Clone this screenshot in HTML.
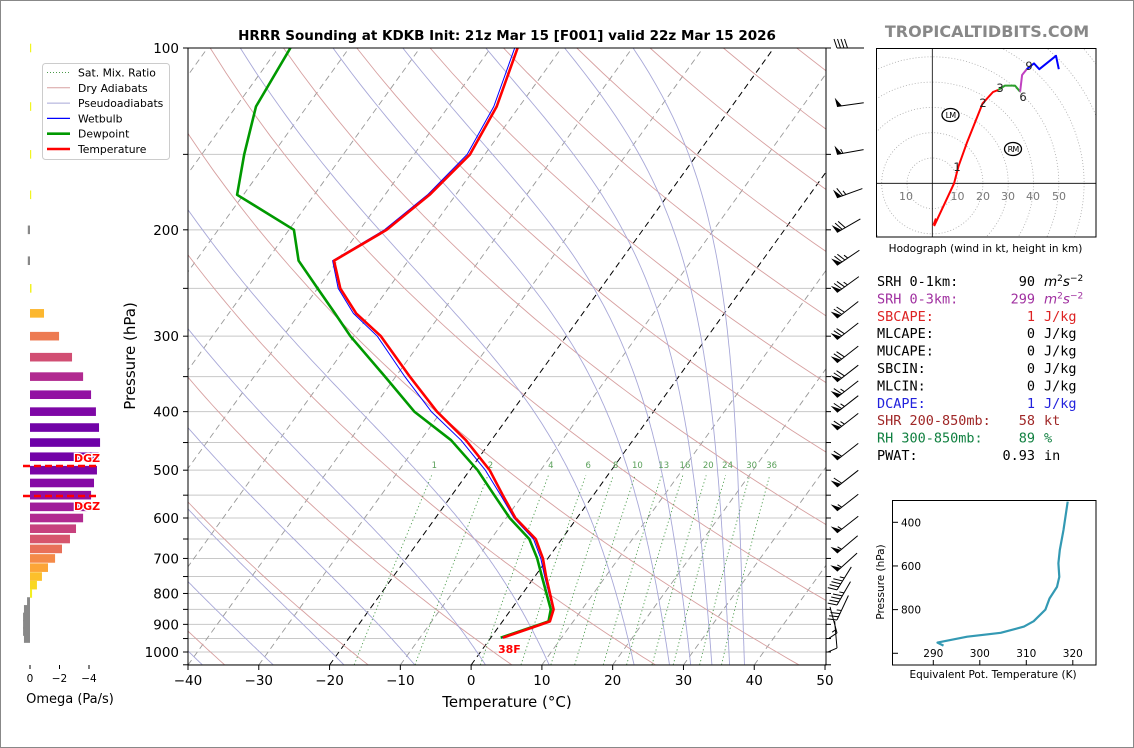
<!DOCTYPE html>
<html><head><meta charset="utf-8">
<style>
html,body{margin:0;padding:0;background:#fff;}
svg{display:block;font-family:"DejaVu Sans","Liberation Sans",sans-serif;}
.mono{font-family:"DejaVu Sans Mono","Liberation Mono",monospace;font-size:13.5px;}
</style></head>
<body>
<svg id="fig" width="1134" height="748" viewBox="0 0 1134 748" xmlns="http://www.w3.org/2000/svg">
<rect x="0.5" y="0.5" width="1133" height="747" fill="#fff" stroke="#888"/>
<defs>
<clipPath id="mainclip"><rect x="188" y="48" width="638" height="617"/></clipPath>
<clipPath id="hodoclip"><rect x="876" y="48" width="220" height="189"/></clipPath>
</defs>
<g id="main-bg" clip-path="url(#mainclip)"></g>
<g id="main-data" clip-path="url(#mainclip)"></g>
<g id="main-axes"></g>
<g id="barbs"></g>
<g id="omega"></g>
<g id="hodo"></g>
<g id="stats"></g>
<g id="thetae"></g>
<text x="507" y="40" text-anchor="middle" font-size="13.5" font-weight="bold">HRRR Sounding at KDKB Init: 21z Mar 15 [F001] valid 22z Mar 15 2026</text>
<text x="987" y="37" text-anchor="middle" font-size="16" font-weight="bold" fill="#888">TROPICALTIDBITS.COM</text>
</svg>
<script>
// ---------- data ----------
const profP = [100,125,150,175,200,225,250,275,300,350,400,446,500,550,600,650,700,750,850,890,900,947];
const tempC = [-56.2,-53.2,-52.1,-53.7,-56.2,-60.5,-56.8,-52.0,-46.2,-38.0,-30.6,-23.6,-17.2,-12.8,-8.7,-3.7,-0.7,1.6,6.0,6.7,5.8,1.7];
const dewC  = [-88.3,-87.2,-84,-80.9,-69.3,-65.5,-60,-55,-50.5,-41.5,-33.8,-25.7,-18.9,-14.0,-9.5,-4.6,-1.5,1.0,5.6,6.5,5.6,1.4];
const wetbC = [-56.6,-53.6,-52.5,-54.0,-56.5,-60.7,-57.1,-52.4,-46.7,-38.7,-31.4,-24.3,-17.8,-13.1,-8.9,-4.0,-1.0,1.4,5.9,6.6,5.7,1.6];
const mixRatios = [1,2,4,6,8,10,13,16,20,24,30,36];
const pTickLabels = [100,200,300,400,500,600,700,800,900,1000];
const tTickLabels = [-40,-30,-20,-10,0,10,20,30,40,50];
const omegaP = [100,125,150,175,200,225,250,275,300,325,350,375,400,425,450,475,500,525,550,575,600,625,650,675,700,725,750,775,800,825,850,875,900,925,950];
const omegaV = [-0.05,-0.05,-0.05,-0.05,0.15,0.15,-0.1,-0.95,-1.97,-2.85,-3.6,-4.14,-4.47,-4.68,-4.75,-4.65,-4.54,-4.34,-4.14,-3.9,-3.6,-3.12,-2.71,-2.17,-1.7,-1.22,-0.81,-0.47,-0.14,0.2,0.41,0.47,0.47,0.47,0.41];
const barbP = [100,125,150,177,202,229,254,280,304,332,357,379,401,429,481,533,584,635,686,735,789,836,885,930,985];
const barbSpd = [40,50,55,65,70,75,75,70,70,70,70,65,65,65,60,60,55,55,55,55,45,45,35,15,10];
const barbDir = [270,262,260,250,240,236,234,232,232,232,232,232,232,232,232,232,232,232,230,228,212,210,205,165,175];
const hodoU = [0.7,8.6,10.3,13.6,19.9,24,26.1];
const hodoV = [-16.9,0,6.6,15.8,31.6,36.1,36.9];
const hodoU36 = [26.1,28.7,32.7,34.7];
const hodoV36 = [36.9,38.6,38.6,36.2];
const hodoU69 = [34.7,35.5,37.3];
const hodoV69 = [36.2,42.8,45.1];
const hodoU9 = [37.3,40.2,42.3,48.9,50];
const hodoV9 = [45.1,47.4,45.1,50.4,45.1];
const thetaE = [318.9,318.0,317.2,316.9,317.1,316.6,315.0,314.1,311.6,309.5,304.5,297.3,290.9,292.2];
const thetaEP = [305,435,527,588,650,696,749,800,853,878,906,924,951,965];
const thTicks = [290,300,310,320];
const thPTicks = [400,600,800,1000];

// ---------- helpers ----------
const NS="http://www.w3.org/2000/svg";
function mk(tag,attrs,parent){const e=document.createElementNS(NS,tag);for(const k in attrs)e.setAttribute(k,attrs[k]);if(parent)parent.appendChild(e);return e;}
function yP(p){return 652-604*Math.log10(1000/p);}
function xT(T,p){return 188+(T+40)*7.078+(665-yP(p))*0.72;}
function pathFrom(ps,ts){return ps.map((p,i)=>(i?'L':'M')+xT(ts[i],p).toFixed(1)+','+yP(p).toFixed(1)).join(' ');}

const bg=document.getElementById('main-bg');
const md=document.getElementById('main-data');
const ax=document.getElementById('main-axes');

// isobars
const isobars=[];for(let p=100;p<=1050;p+=50)isobars.push(p);
isobars.forEach(p=>{const l=mk('line',{x1:188,x2:826,y1:yP(p),y2:yP(p),stroke:'#c8c8c8','stroke-width':1},bg);
});
// isotherms
for(let T=-130;T<=50;T+=10){
 const black=(T===0||T===-20);
 const l=mk('line',{x1:xT(T,1050.8),y1:yP(1050.8),x2:xT(T,100),y2:yP(100),stroke:black?'#000':'#999','stroke-width':black?1:0.9,'stroke-dasharray':'6,4'},bg);
 
}
// dry adiabats
for(let th=235;th<=535;th+=20){
 let d='';for(let p=1050;p>=100;p-=10){const T=th*Math.pow(p/1000,0.2857)-273.15;d+=(d?'L':'M')+xT(T,p).toFixed(1)+','+yP(p).toFixed(1);}
 const l=mk('path',{d:d,fill:'none',stroke:'#d7a0a0','stroke-width':0.9},bg);
 
}
// moist adiabats (start at 1050 hPa)
function es(Tc){return 6.112*Math.exp(17.67*Tc/(Tc+243.5));}
function dTdp(T,p){const e=es(T-273.15);const rs=0.622*e/(p-e);return (287.04*T+2.501e6*rs)/(p*(1005.7+2.501e6*2.501e6*rs*0.622/(287.04*T*T)));}
[-48,-38,-28,-18,-8,2,11,23,28,31,34,36.5,38.6].forEach(T0=>{
 let T=T0+273.15;let d='';
 for(let p=1050;p>=100;p-=5){d+=(d?'L':'M')+xT(T-273.15,p).toFixed(1)+','+yP(p).toFixed(1);T-=dTdp(T,p)*5;}
 const l=mk('path',{d:d,fill:'none',stroke:'#a8a8d8','stroke-width':0.9},bg);
 
});
// mixing ratio
mixRatios.forEach(w=>{
 let d='';for(let p=1050;p>=510;p-=10){const e=w*p/(622+w);const ln=Math.log(e/6.112);const Td=243.5*ln/(17.67-ln);d+=(d?'L':'M')+xT(Td,p).toFixed(1)+','+yP(p).toFixed(1);}
 const l=mk('path',{d:d,fill:'none',stroke:'#4a9a4a','stroke-width':0.9,'stroke-dasharray':'1.2,2.5'},bg);
 
 const e=w*500/(622+w);const ln=Math.log(e/6.112);const Td=243.5*ln/(17.67-ln);
 const t=mk('text',{x:xT(Td,500)+0.5,y:468,'font-size':8.5,fill:'#5aa05a','text-anchor':'middle'},bg);t.textContent=w;
 
});
// profiles
let pl=mk('path',{d:pathFrom(profP,dewC),fill:'none',stroke:'#009900','stroke-width':2.6,'stroke-linejoin':'round'},md);

pl=mk('path',{d:pathFrom(profP,wetbC),fill:'none',stroke:'#0000ff','stroke-width':1,'stroke-linejoin':'round'},md);

pl=mk('path',{d:pathFrom(profP,tempC),fill:'none',stroke:'#ff0000','stroke-width':2.6,'stroke-linejoin':'round'},md);

let sfc=mk('text',{x:498,y:653,'font-size':11,'font-weight':'bold',fill:'#ff0000',stroke:'#fff','stroke-width':2,'paint-order':'stroke'},md);sfc.textContent='38F';


// axes frame
mk('rect',{x:188,y:48,width:638,height:617,fill:'none',stroke:'#000','stroke-width':1},ax);
isobars.forEach(p=>{
 if(p>1050)return;const y=yP(p);
 mk('line',{x1:183,x2:188,y1:y,y2:y,stroke:'#000'},ax);
 mk('line',{x1:826,x2:831,y1:y,y2:y,stroke:'#000'},ax);
});
pTickLabels.forEach(p=>{const t=mk('text',{x:179,y:yP(p)+5,'font-size':13.5,'text-anchor':'end'},ax);t.textContent=p;
 });
tTickLabels.forEach(T=>{const x=188+(T+40)*7.078;mk('line',{x1:x,x2:x,y1:665,y2:670,stroke:'#000'},ax);
 const t=mk('text',{x:x,y:685,'font-size':13.5,'text-anchor':'middle'},ax);t.textContent=(T<0?'\u2212':'')+Math.abs(T);
 });
let xl=mk('text',{x:507,y:707,'font-size':15,'text-anchor':'middle'},ax);xl.textContent='Temperature (\u00B0C)';

let yl=mk('text',{x:135,y:356,'font-size':15,'text-anchor':'middle',transform:'rotate(-90 135 356)'},ax);yl.textContent='Pressure (hPa)';


// legend
const lg=mk('g',{},ax);
mk('rect',{x:42.5,y:63.5,width:127,height:96,rx:3,fill:'#fff',stroke:'#ccc'},lg);
const legItems=[['Sat. Mix. Ratio','#4a9a4a',1,'1,2'],['Dry Adiabats','#d7a0a0',1,''],['Pseudoadiabats','#a8a8d8',1,''],['Wetbulb','#0000ff',1.2,''],['Dewpoint','#009900',2.6,''],['Temperature','#ff0000',2.6,'']];
legItems.forEach((it,i)=>{const y=72.5+i*15.3;
 const g=mk('g',{},lg);
 mk('line',{x1:47,x2:70,y1:y,y2:y,stroke:it[1],'stroke-width':it[2],'stroke-dasharray':it[3]},g);
 const t=mk('text',{x:78,y:y+4,'font-size':10.8},g);t.textContent=it[0];});

// wind barbs (flag end anchored at the level)
const bb=document.getElementById('barbs');
barbP.forEach((p,i)=>{
 const g=mk('g',{},bb);
 const L=27;const th=barbDir[i]*Math.PI/180;
 const ux=Math.sin(th),uy=-Math.cos(th);const nx=-uy,ny=ux;
 const tx=837-(ux<0?0:0),ty=yP(p);
 const bx=tx-ux*L,by=ty-uy*L;
 mk('line',{x1:bx,y1:by,x2:tx,y2:ty,stroke:'#000','stroke-width':1},g);
 let s=Math.round(barbSpd[i]/5)*5;let pos=0;const step=3.5;
 while(s>=50){const ax0=tx-ux*pos,ay0=ty-uy*pos;const ax1=tx-ux*(pos+5),ay1=ty-uy*(pos+5);
  mk('polygon',{points:`${ax0},${ay0} ${ax1},${ay1} ${ax0+nx*9+ux*1},${ay0+ny*9+uy*1}`,fill:'#000'},g);pos+=6;s-=50;}
 while(s>=10){const a0x=tx-ux*pos,a0y=ty-uy*pos;mk('line',{x1:a0x,y1:a0y,x2:a0x+nx*9+ux*3,y2:a0y+ny*9+uy*3,stroke:'#000','stroke-width':1},g);pos+=step;s-=10;}
 if(s>=5){if(pos===0)pos=step;const a0x=tx-ux*pos,a0y=ty-uy*pos;mk('line',{x1:a0x,y1:a0y,x2:a0x+nx*4.5+ux*1.5,y2:a0y+ny*4.5+uy*1.5,stroke:'#000','stroke-width':1},g);}
});

// omega panel
const om=document.getElementById('omega');
const plasma=['#0d0887','#41049d','#6a00a8','#8f0da4','#b12a90','#cc4778','#e16462','#f2844b','#fca636','#fcce25','#f0f921'];
function hex2(c){return [1,3,5].map(i=>parseInt(c.substr(i,2),16));}
function plasmaAt(t){t=Math.max(0,Math.min(1,t));const f=t*10,i=Math.min(9,Math.floor(f)),r=f-i;const a=hex2(plasma[i]),b=hex2(plasma[i+1]);return 'rgb('+a.map((v,k)=>Math.round(v+(b[k]-v)*r)).join(',')+')';}
function xOm(v){return 30-v*14.75;}
omegaP.forEach((p,i)=>{const v=omegaV[i];const y=yP(p);const x0=xOm(0),x1=xOm(v);
 const col=v>0?'#888':plasmaAt(1-Math.abs(v)/6);
 const r=mk('rect',{x:Math.min(x0,x1),y:y-4.3,width:Math.max(Math.abs(x1-x0),1.2),height:8.6,fill:col},om);
 });
[466,496].forEach(y=>{const l=mk('line',{x1:23,x2:98,y1:y,y2:y,stroke:'#ff0000','stroke-width':2.5,'stroke-dasharray':'7,4'},om);
 });
[[462,'dgz-top-label'],[510,'dgz-bottom-label']].forEach(a=>{const t=mk('text',{x:74,y:a[0],'font-size':11,'font-weight':'bold',fill:'#ff0000',stroke:'#fff','stroke-width':2.5,'paint-order':'stroke'},om);t.textContent='DGZ';
 });
[0,-2,-4].forEach(v=>{const x=xOm(v);mk('line',{x1:x,x2:x,y1:665,y2:669,stroke:'#000'},om);
 const t=mk('text',{x:x,y:682,'font-size':10.5,'text-anchor':'middle'},om);t.textContent=v===0?'0':'\u2212'+Math.abs(v);
 });
let ot=mk('text',{x:70,y:703,'font-size':13,'text-anchor':'middle'},om);ot.textContent='Omega (Pa/s)';


// hodograph
const hd=document.getElementById('hodo');
const ox=932.3,oy=183.3,ks=2.53;
function hx(u){return ox+u*ks;}function hy(v){return oy-v*ks;}
const hc=mk('g',{'clip-path':'url(#hodoclip)'},hd);
for(let r=10;r<=90;r+=10){const c=mk('circle',{cx:ox,cy:oy,r:r*ks,fill:'none',stroke:'#aaa','stroke-width':0.8,'stroke-dasharray':'1,2'},hc);
 }
mk('line',{x1:876,x2:1096,y1:oy,y2:oy,stroke:'#000','stroke-width':0.8},hc);
mk('line',{x1:ox,x2:ox,y1:48,y2:237,stroke:'#000','stroke-width':0.8},hc);
function hpath(us,vs,col,name){const d=us.map((u,i)=>(i?'L':'M')+hx(u).toFixed(1)+','+hy(vs[i]).toFixed(1)).join(' ');
 const p=mk('path',{d:d,fill:'none',stroke:col,'stroke-width':2,'stroke-linejoin':'round'},hc);}
hpath(hodoU,hodoV,'#ff0000','hodo-0-3km');hpath(hodoU36,hodoV36,'#2ca02c','hodo-3-6km');hpath(hodoU69,hodoV69,'#c040c0','hodo-6-9km');hpath(hodoU9,hodoV9,'#0000ff','hodo-9km-plus');
mk('polygon',{points:`${hx(hodoU[0])-2},${hy(hodoV[0])} ${hx(hodoU[0])+1},${hy(hodoV[0])-8} ${hx(hodoU[0])+4},${hy(hodoV[0])-6}`,fill:'#ff0000'},hc);
[['1',957,171],['2',983,107],['3',1000,92],['6',1023,101],['9',1029,70]].forEach(a=>{const t=mk('text',{x:a[1],y:a[2],'font-size':11.5,'text-anchor':'middle',fill:'#222'},hc);t.textContent=a[0];
 });
[[-10,906],[10,957.5],[20,983],[30,1008],[40,1033],[50,1059]].forEach(a=>{const t=mk('text',{x:a[1],y:200,'font-size':11,'text-anchor':'middle',fill:'#777'},hc);t.textContent=Math.abs(a[0]);
 });
[['LM',950.5,115],['RM',1013,149]].forEach(a=>{mk('ellipse',{cx:a[1],cy:a[2],rx:8.5,ry:6.5,fill:'#fff',stroke:'#000','stroke-width':1.3},hc);
 const t=mk('text',{x:a[1],y:a[2]+3,'font-size':8,'text-anchor':'middle','letter-spacing':'-0.8'},hc);t.textContent=a[0];
 });
mk('rect',{x:876.5,y:48.5,width:219.5,height:188.5,fill:'none',stroke:'#000'},hd);
let hcap=mk('text',{x:985.5,y:252,'font-size':10.5,'text-anchor':'middle'},hd);hcap.textContent='Hodograph (wind in kt, height in km)';


// stats
const st=document.getElementById('stats');
const rows=[['SRH 0-1km:','90','m2','#000'],['SRH 0-3km:','299','m2','#a030a0'],['SBCAPE:','1','J/kg','#dd2222'],['MLCAPE:','0','J/kg','#000'],['MUCAPE:','0','J/kg','#000'],['SBCIN:','0','J/kg','#000'],['MLCIN:','0','J/kg','#000'],['DCAPE:','1','J/kg','#2222dd'],['SHR 200-850mb:','58','kt','#a02828'],['RH 300-850mb:','89','%','#108040'],['PWAT:','0.93','in','#000']];
rows.forEach((r,i)=>{const y=286+i*17.4;const g=mk('g',{fill:r[3],'class':'mono'},st);
 
 let t=mk('text',{x:877,y:y},g);t.textContent=r[0];
 t=mk('text',{x:1035,y:y,'text-anchor':'end'},g);t.textContent=r[1];
 if(r[2]==='m2'){t=mk('text',{x:1044,y:y,'font-family':'DejaVu Sans,sans-serif','font-style':'italic','font-size':13.5},g);
  t.innerHTML='m<tspan dy="-5" font-size="9" font-style="normal">2</tspan><tspan dy="5">s</tspan><tspan dy="-5" font-size="9" font-style="normal">\u22122</tspan>';}
 else{t=mk('text',{x:1044,y:y},g);t.textContent=r[2];}
});

// theta-e panel
const te=document.getElementById('thetae');
function tx2(th){return 933.3+(th-290)*4.65;}function ty2(p){return 522.3+(p-400)*0.2183;}
const tep=thetaE.map((v,i)=>(i?'L':'M')+tx2(v).toFixed(1)+','+ty2(thetaEP[i]).toFixed(1)).join(' ');
let tpl=mk('path',{d:tep,fill:'none',stroke:'#3399b3','stroke-width':2.2,'stroke-linejoin':'round'},te);

mk('rect',{x:892.5,y:500.5,width:203.5,height:164.5,fill:'none',stroke:'#000'},te);
thTicks.forEach(v=>{const x=tx2(v);mk('line',{x1:x,x2:x,y1:665,y2:660,stroke:'#000'},te);
 const t=mk('text',{x:x,y:657,'font-size':10.5,'text-anchor':'middle'},te);t.textContent=v;
 });
thPTicks.forEach(p=>{const y=ty2(p);mk('line',{x1:893,x2:898,y1:y,y2:y,stroke:'#000'},te);
 if(p<1000){const t=mk('text',{x:901,y:y+4,'font-size':10.5},te);t.textContent=p;
 }});
let tyl=mk('text',{x:884,y:582,'font-size':10.5,'text-anchor':'middle',transform:'rotate(-90 884 582)'},te);tyl.textContent='Pressure (hPa)';

let txl=mk('text',{x:993,y:678,'font-size':10.5,'text-anchor':'middle'},te);txl.textContent='Equivalent Pot. Temperature (K)';

</script>
</body></html>
